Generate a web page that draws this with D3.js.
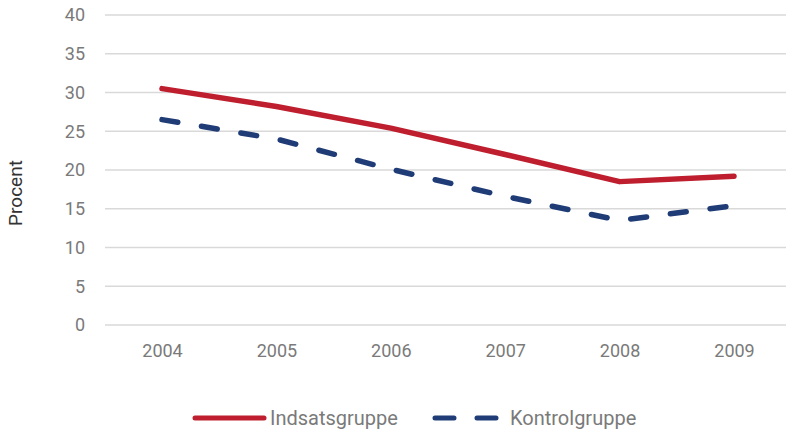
<!DOCTYPE html>
<html>
<head>
<meta charset="utf-8">
<script src="https://cdn.jsdelivr.net/npm/d3@7"></script>
<style>
  body { margin: 0; background: #fff; }
  text { font-family: Roboto, "DejaVu Sans", sans-serif; fill: #7a7a7a; }
</style>
</head>
<body>
<div id="chart"></div>
<script>
var years = ["2004", "2005", "2006", "2007", "2008", "2009"];
var indsats = [30.5, 28.2, 25.4, 22.0, 18.5, 19.2];
var kontrol = [26.5, 24.0, 20.1, 16.6, 13.5, 15.4];
var yTicks = [0, 5, 10, 15, 20, 25, 30, 35, 40];
var seriesNames = ["Indsatsgruppe", "Kontrolgruppe"];

var width = 786, height = 430;
var margin = {top: 15, right: 0, bottom: 105, left: 105};

var svg = d3.select("#chart").append("svg")
  .attr("width", width)
  .attr("height", height);

var x = d3.scalePoint()
  .domain(years)
  .range([162, 734]);

var y = d3.scaleLinear()
  .domain([0, 40])
  .range([height - margin.bottom, margin.top]);

// gridlines
svg.append("g")
  .selectAll("line")
  .data(yTicks)
  .enter().append("line")
  .attr("x1", margin.left)
  .attr("x2", width - margin.right)
  .attr("y1", d => y(d))
  .attr("y2", d => y(d))
  .attr("stroke", "#d9d9d9")
  .attr("stroke-width", 1.5);

// y axis labels
var yAxis = svg.append("g")
  .attr("transform", "translate(" + (margin.left - 10) + ",0)")
  .call(d3.axisLeft(y).tickValues(yTicks).tickSize(0).tickPadding(10));
yAxis.select(".domain").remove();
yAxis.selectAll("text")
  .style("font-size", "18px")
  .attr("fill", "#7a7a7a");

// x axis labels
var xAxis = svg.append("g")
  .attr("transform", "translate(0," + (y(0) + 19) + ")")
  .call(d3.axisBottom(x).tickSize(0).tickPadding(0));
xAxis.select(".domain").remove();
xAxis.selectAll("text")
  .style("font-size", "18px")
  .attr("fill", "#7a7a7a");

svg.append("text")
  .attr("transform", "translate(22,193) rotate(-90)")
  .attr("text-anchor", "middle")
  .style("font-size", "19px")
  .style("fill", "#333")
  .text("Procent");

var line = d3.line()
  .x((d, i) => x(years[i]))
  .y(d => y(d));

svg.append("path")
  .datum(indsats)
  .attr("d", line)
  .attr("fill", "none")
  .attr("stroke", "#be1e2d")
  .attr("stroke-width", 5.5)
  .attr("stroke-linecap", "round")
  .attr("stroke-linejoin", "round");

svg.append("path")
  .datum(kontrol)
  .attr("d", line)
  .attr("fill", "none")
  .attr("stroke", "#1f3c77")
  .attr("stroke-width", 5.5)
  .attr("stroke-dasharray", "16,24")
  .attr("stroke-linecap", "round")
  .attr("stroke-linejoin", "round");

// legend
var legend = svg.append("g");
legend.append("line")
  .attr("x1", 195).attr("x2", 264)
  .attr("y1", 418).attr("y2", 418)
  .attr("stroke", "#be1e2d")
  .attr("stroke-width", 5)
  .attr("stroke-linecap", "round");
legend.append("text")
  .attr("x", 270).attr("y", 425)
  .style("font-size", "20px")
  .text(seriesNames[0]);

legend.append("line")
  .attr("x1", 435).attr("x2", 497)
  .attr("y1", 418).attr("y2", 418)
  .attr("stroke", "#1f3c77")
  .attr("stroke-width", 5)
  .attr("stroke-dasharray", "19,23")
  .attr("stroke-linecap", "round");
legend.append("text")
  .attr("x", 510).attr("y", 425)
  .style("font-size", "20px")
  .text(seriesNames[1]);
</script>
</body>
</html>
